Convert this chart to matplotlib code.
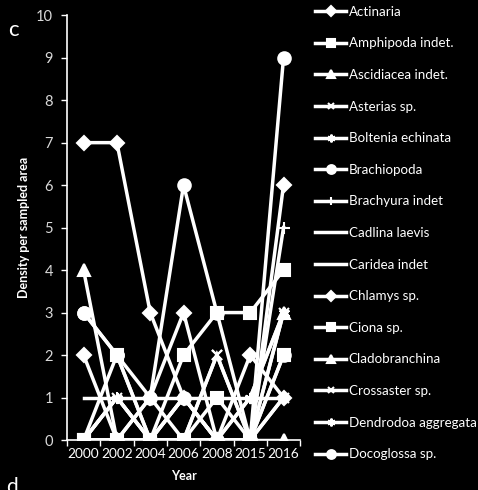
import matplotlib
matplotlib.use("Agg")
import matplotlib.pyplot as plt

plt.rcParams['font.family'] = ['Lato', 'DejaVu Sans']

years = ["2000", "2002", "2004", "2006", "2008", "2015", "2016"]

actinaria      = [7, 7, 3, 1, 0, 0, 6]
amphipoda      = [0, 0, 0, 2, 3, 3, 4]
ascidiacea     = [4, 0, 0, 0, 0, 0, 3]
asterias       = [0, 1, 0, 0, 2, 0, 3]
boltenia       = [0, 1, 0, 1, 0, 1, 3]
brachiopoda    = [3, 2, 1, 6, 3, 0, 9]
brachyura      = [0, 1, 0, 1, 0, 0, 5]
cadlina        = [0, 0, 0, 0, 0, 0, 1]
caridea        = [1, 1, 1, 1, 1, 1, 1]
chlamys        = [2, 0, 1, 3, 0, 2, 1]
ciona          = [0, 2, 0, 0, 1, 0, 2]
cladobranchina = [0, 0, 0, 0, 0, 0, 0]
crossaster     = [0, 0, 1, 0, 2, 0, 1]
dendrodoa      = [0, 0, 0, 0, 0, 1, 3]
docoglossa     = [3, 2, 0, 1, 0, 0, 2]

series = [
    ("Actinaria", actinaria, "D", 7),
    ("Amphipoda indet.", amphipoda, "s", 8),
    ("Ascidiacea indet.", ascidiacea, "^", 8),
    ("Asterias sp.", asterias, "x", 7),
    ("Boltenia echinata", boltenia, (6, 2, 0), 8),
    ("Brachiopoda", brachiopoda, "o", 9),
    ("Brachyura indet", brachyura, "+", 8),
    ("Cadlina laevis", cadlina, None, 0),
    ("Caridea indet", caridea, None, 0),
    ("Chlamys sp.", chlamys, "D", 7),
    ("Ciona sp.", ciona, "s", 8),
    ("Cladobranchina", cladobranchina, "^", 8),
    ("Crossaster sp.", crossaster, "x", 7),
    ("Dendrodoa aggregata", dendrodoa, (6, 2, 0), 8),
    ("Docoglossa sp.", docoglossa, "o", 9),
]

fig = plt.figure(figsize=(4.78, 4.90), dpi=100, facecolor="black")
ax = fig.add_axes([0.140, 0.102, 0.488, 0.867], facecolor="black")

x = list(range(len(years)))
handles = []
for name, vals, mk, ms in series:
    h, = ax.plot(x, vals, color="white", lw=2.5, marker=mk, markersize=ms,
                 markeredgewidth=1.5, markeredgecolor="white",
                 markerfacecolor="white", label=name, solid_joinstyle="miter")
    handles.append(h)

ax.set_xlim(-0.5, 6.5)
ax.set_ylim(0, 10)
ax.set_yticks(range(0, 11))
ax.set_xticks(x)
ax.set_xticklabels(years)
ax.set_xticks([i - 0.5 for i in range(8)], minor=True)
ax.tick_params(axis="x", which="major", length=0, colors="white", labelsize=9.8, pad=6)
ax.tick_params(axis="x", which="minor", length=4, color="white", width=1, direction="out")
ax.tick_params(axis="y", length=4, color="white", width=1, direction="out",
               labelcolor="#d9d9d9", labelsize=10.5, pad=6)
for s in ["top", "right"]:
    ax.spines[s].set_visible(False)
for s in ["left", "bottom"]:
    ax.spines[s].set_color("white")
    ax.spines[s].set_linewidth(1.2)

ax.set_xlabel("Year", color="white", fontsize=9, fontweight="bold", labelpad=7)
ax.set_ylabel("Density per sampled area", color="white", fontsize=9,
              fontweight="bold", labelpad=4)

fig.text(0.018, 0.938, "c", color="white", fontsize=16, va="center")
fig.text(0.012, 0.006, "d", color="white", fontsize=15, va="center")

leg = fig.legend(handles=handles, loc="upper left", bbox_to_anchor=(0.66, 0.988),
                 frameon=False, fontsize=9.6, labelcolor="white", handlelength=2.3,
                 handletextpad=0.2, labelspacing=1.47, borderaxespad=0.0,
                 borderpad=0.0, markerscale=0.7)

fig.savefig("out.png", dpi=100, facecolor="black")
